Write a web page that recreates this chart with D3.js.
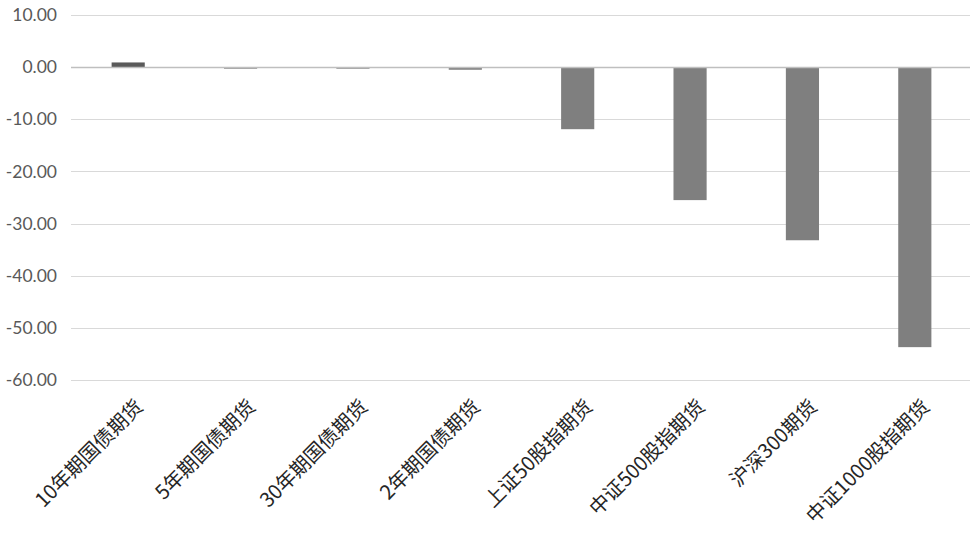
<!DOCTYPE html>
<html><head><meta charset="utf-8">
<script src="https://cdn.jsdelivr.net/npm/d3@7/dist/d3.min.js"></script>
<style>body{margin:0;background:#fff;}svg{display:block;}</style>
</head><body>
<svg id="chart" width="975" height="535"></svg>
<script>
const categories = ["10年期国债期货","5年期国债期货","30年期国债期货","2年期国债期货","上证50股指期货","中证500股指期货","沪深300期货","中证1000股指期货"];
const values = [0.9, -0.3, -0.3, -0.5, -11.9, -25.5, -33.2, -53.7];
const yTicks = [10, 0, -10, -20, -30, -40, -50, -60];

(function () {
const svg = d3.select("#chart");
const mLeft = 71, mRight = 970, mTop = 15, mBottom = 380;
const x = d3.scaleBand().domain(categories).range([mLeft, mRight]).paddingInner(0.705).paddingOuter(0.3525);
const y = d3.scaleLinear().domain([-60, 10]).range([mBottom, mTop]);

svg.append("g").selectAll("line").data(yTicks).join("line")
  .attr("x1", mLeft).attr("x2", mRight)
  .attr("y1", d => Math.round(y(d)) + 0.5).attr("y2", d => Math.round(y(d)) + 0.5)
  .attr("stroke", "#d9d9d9").attr("stroke-width", 1);

const fmt = d => d.toFixed(2);
const yAxis = d3.axisLeft(y).tickValues(yTicks).tickFormat(fmt).tickSize(0).tickPadding(14);
const ga = svg.append("g").attr("transform", `translate(${mLeft},0)`).call(yAxis);
ga.select(".domain").remove();
ga.selectAll("text").attr("fill", "#595959").style("font-family", "Lato, 'Open Sans', sans-serif").style("font-size", "17.5px");

svg.append("g").selectAll("rect").data(values).join("rect")
  .attr("x", (d, i) => x(categories[i]) + 1)
  .attr("width", x.bandwidth())
  .attr("y", d => y(Math.max(0, d)))
  .attr("height", d => Math.abs(y(d) - y(0)))
  .attr("fill", d => d > 0 ? "#5a5a5a" : "#7f7f7f");

svg.append("line").attr("x1", mLeft).attr("x2", mRight)
  .attr("y1", Math.round(y(0)) + 0.5).attr("y2", Math.round(y(0)) + 0.5)
  .attr("stroke", "#bfbfbf").attr("stroke-width", 1.5);

svg.append("g").selectAll("text").data(categories).join("text")
  .attr("transform", d => `translate(${x(d) + x.bandwidth()/2 + 17},${mBottom + 28}) rotate(-45)`)
  .attr("text-anchor", "end")
  .attr("fill", "#262626")
  .style("font-family", "'Noto Sans CJK SC', Lato, sans-serif")
  .style("font-size", "20px")
  .text(d => d);
})();
</script>
</body></html>
